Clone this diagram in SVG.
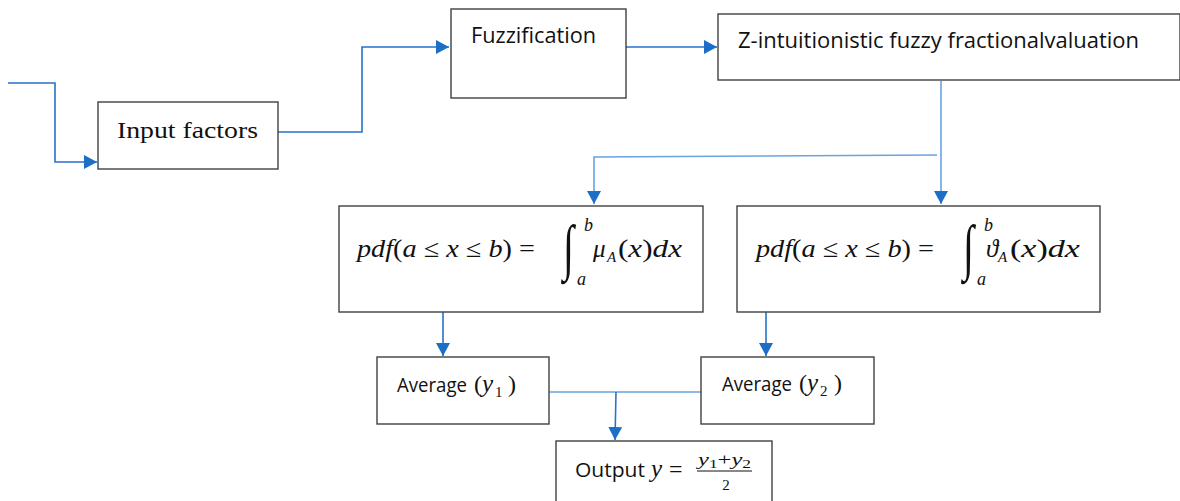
<svg xmlns="http://www.w3.org/2000/svg" width="1180" height="501" viewBox="0 0 1180 501">
<defs>
<style>
.box{fill:#fff;stroke:#404040;stroke-width:1.4}
.c{fill:none;stroke:#2673CB;stroke-width:1.6}
.cl{fill:none;stroke:#6AA3E0;stroke-width:1.6}
.sans{font-family:"Open Sans","Liberation Sans",Arial,sans-serif;fill:#111}
.serif{font-family:"Liberation Serif","Times New Roman",serif;fill:#111}
.math{font-family:"Liberation Serif","DejaVu Serif",serif;fill:#111}
.it{font-style:italic}
</style>
<marker id="ah" markerUnits="userSpaceOnUse" markerWidth="14" markerHeight="15" refX="13" refY="7" orient="auto">
<path d="M0,0 L13,7 L0,14 Z" fill="#1C6EC6"/>
</marker>
</defs>
<rect width="1180" height="501" fill="#fff"/>

<g id="connectors">
<polyline class="c" points="8,83 55,83 55,162 97,162" marker-end="url(#ah)"/>
<polyline class="c" points="278,132 362,132 362,47 449,47" marker-end="url(#ah)"/>
<line class="c" x1="625" y1="47" x2="717" y2="47" marker-end="url(#ah)"/>
<line class="cl" x1="941" y1="81" x2="941" y2="204" marker-end="url(#ah)"/>
<polyline class="cl" points="937,155 594,157 594,204" marker-end="url(#ah)"/>
<line class="c" x1="443" y1="312" x2="443" y2="356" marker-end="url(#ah)"/>
<line class="c" x1="766" y1="312" x2="766" y2="356" marker-end="url(#ah)"/>
<line class="cl" x1="534" y1="392" x2="701" y2="392"/>
<polyline class="c" points="616,392 615,440" marker-end="url(#ah)"/>
</g>

<g id="input">
<rect class="box" x="98" y="102" width="180" height="67"/>
<text class="serif" x="117" y="138" font-size="24" textLength="141" lengthAdjust="spacingAndGlyphs">Input factors</text>
</g>

<g id="fuzzification">
<rect class="box" x="451" y="9" width="175" height="89"/>
<text class="sans" x="471" y="43" font-size="21" textLength="125" lengthAdjust="spacingAndGlyphs">Fuzzification</text>
</g>

<g id="zeval">
<rect class="box" x="718" y="14" width="462" height="66"/>
<text class="sans" x="738" y="48" font-size="21" textLength="401" lengthAdjust="spacingAndGlyphs">Z-intuitionistic fuzzy fractionalvaluation</text>
</g>

<g id="pdf1">
<rect class="box" x="339" y="206" width="364" height="106"/>
<text class="serif" x="357" y="257" font-size="25" textLength="178" lengthAdjust="spacingAndGlyphs"><tspan class="it">pdf</tspan>(<tspan class="it">a</tspan> ≤ <tspan class="it">x</tspan> ≤ <tspan class="it">b</tspan>) =</text>
<text class="math" font-size="40" transform="translate(563,268) scale(1,1.54)">∫</text>
<text class="serif it" x="584" y="231" font-size="18">b</text>
<text class="serif it" x="577" y="285" font-size="18">a</text>
<text class="serif it" x="593" y="257" font-size="25">μ</text>
<text class="serif it" x="607" y="262" font-size="15">A</text>
<text class="serif" x="618" y="257" font-size="25" textLength="64" lengthAdjust="spacingAndGlyphs">(<tspan class="it">x</tspan>)<tspan class="it">dx</tspan></text>
</g>

<g id="pdf2">
<rect class="box" x="737" y="206" width="363" height="106"/>
<text class="serif" x="756" y="257" font-size="25" textLength="178" lengthAdjust="spacingAndGlyphs"><tspan class="it">pdf</tspan>(<tspan class="it">a</tspan> ≤ <tspan class="it">x</tspan> ≤ <tspan class="it">b</tspan>) =</text>
<text class="math" font-size="40" transform="translate(963,268) scale(1,1.54)">∫</text>
<text class="serif it" x="984" y="231" font-size="18">b</text>
<text class="serif it" x="977" y="285" font-size="18">a</text>
<text class="serif it" x="986" y="257" font-size="25">ϑ</text>
<text class="serif it" x="998" y="262" font-size="15">A</text>
<text class="serif" x="1010" y="257" font-size="25" textLength="70" lengthAdjust="spacingAndGlyphs">(<tspan class="it">x</tspan>)<tspan class="it">dx</tspan></text>
</g>

<g id="avg1">
<rect class="box" x="377" y="357" width="172" height="67"/>
<text class="sans" x="397" y="392" font-size="20" textLength="70" lengthAdjust="spacingAndGlyphs">Average</text>
<text class="serif" x="474" y="392" font-size="24">(</text>
<text class="serif it" x="482" y="392" font-size="25">y</text>
<text class="serif" x="495" y="397" font-size="15">1</text>
<text class="serif" x="508" y="392" font-size="24">)</text>
</g>

<g id="avg2">
<rect class="box" x="701" y="357" width="173" height="67"/>
<text class="sans" x="722" y="391" font-size="20" textLength="70" lengthAdjust="spacingAndGlyphs">Average</text>
<text class="serif" x="799" y="391" font-size="24">(</text>
<text class="serif it" x="807" y="391" font-size="25">y</text>
<text class="serif" x="820" y="396" font-size="15">2</text>
<text class="serif" x="834" y="391" font-size="24">)</text>
</g>

<g id="output">
<rect class="box" x="556" y="441" width="216" height="70"/>
<text class="sans" x="575" y="477" font-size="20" textLength="70" lengthAdjust="spacingAndGlyphs">Output</text>
<text class="serif it" x="651" y="477" font-size="25">y</text>
<text class="serif" x="669" y="477" font-size="24">=</text>
<line x1="697" y1="471" x2="752" y2="471" stroke="#111" stroke-width="1"/>
<text class="serif" x="698" y="465" font-size="17" textLength="53" lengthAdjust="spacingAndGlyphs"><tspan class="it">y</tspan><tspan font-size="12" dy="3">1</tspan><tspan dy="-3">+</tspan><tspan class="it">y</tspan><tspan font-size="12" dy="3">2</tspan></text>
<text class="serif" x="726" y="490" font-size="15" text-anchor="middle">2</text>
</g>
</svg>
